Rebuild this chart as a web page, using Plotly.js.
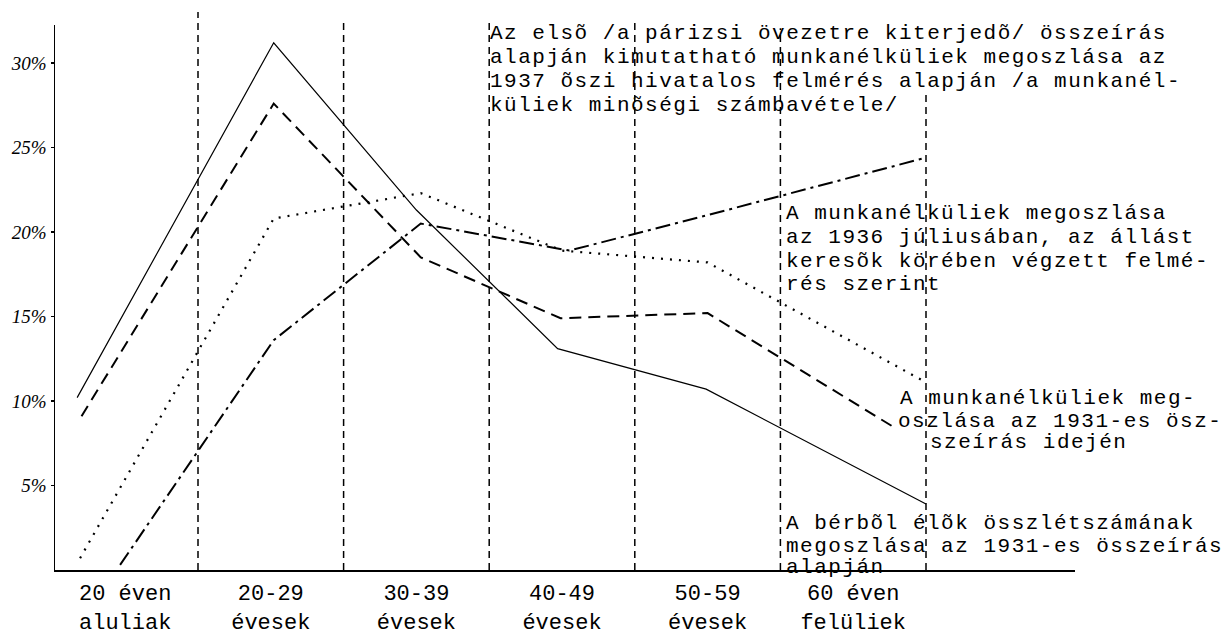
<!DOCTYPE html>
<html><head><meta charset="utf-8">
<script src="https://cdn.plot.ly/plotly-3.0.1.min.js"></script>
<style>
html,body{margin:0;padding:0;background:#fff}
#chart{width:1226px;height:637px}
text.annotation-text{letter-spacing:1.5px}
</style>
</head><body><div id="chart"></div>
<script>
// ---- data ----
const ageGroups = ["20 éven<br>aluliak", "20-29<br>évesek", "30-39<br>évesek", "40-49<br>évesek", "50-59<br>évesek", "60 éven<br>felüliek"];
const ageIndex = [0, 1, 2, 3, 4, 5];
const yTickVals = [5, 10, 15, 20, 25, 30];
const yTickText = ["5%", "10%", "15%", "20%", "25%", "30%"];

// x in age-group units, y in percent
const bersX = [-0.33, 1.02, 2.0, 2.97, 3.99, 5.5];
const bersY = [10.2, 31.2, 21.3, 13.1, 10.7, 3.9];
const census1931X = [-0.30, 1.02, 2.03, 2.99, 4.0, 5.27];
const census1931Y = [9.1, 27.6, 18.5, 14.9, 15.2, 8.5];
const survey1936X = [-0.31, 1.02, 2.03, 3.0, 4.0, 5.5];
const survey1936Y = [0.7, 20.8, 22.3, 18.9, 18.2, 11.1];
const paris1937X = [-0.035, 1.02, 2.03, 3.05, 4.0, 5.5];
const paris1937Y = [0.3, 13.6, 20.5, 18.9, 21.0, 24.4];

// ---- texts ----
const textParis1937 = ["Az elsõ /a párizsi övezetre kiterjedõ/ összeírás",
  "alapján kimutatható munkanélküliek megoszlása az",
  "1937 õszi hivatalos felmérés alapján /a munkanél-",
  "küliek minõségi számbavétele/"];
const textSurvey1936 = ["A munkanélküliek megoszlása",
  "az 1936 júliusában, az állást",
  "keresõk körében végzett felmé-",
  "rés szerint"];
const textCensus1931 = ["A munkanélküliek meg-",
  "oszlása az 1931-es ösz-",
  "szeírás idején"];
const textBers = ["A bérbõl élõk összlétszámának",
  "megoszlása az 1931-es összeírás",
  "alapján"];

// ---- layout helpers ----
const FIG = {w: 1226, h: 637};
const M = {l: 55, r: 151, t: 25, b: 67};
const PW = FIG.w - M.l - M.r, PH = FIG.h - M.t - M.b;
const px2x = p => (p - M.l) / PW;
const px2y = p => (FIG.h - M.b - p) / PH;
const MONO = "Liberation Mono, Courier New, monospace";

function block(lines, lefts, centers) {
  return lines.map((t, i) => ({
    text: t, xref: "paper", yref: "paper",
    x: px2x(lefts[i]), y: px2y(centers[i]),
    xanchor: "left", yanchor: "middle", showarrow: false,
    font: {family: MONO, size: 21, color: "#000"}
  }));
}

const annotations = [].concat(
  block(textParis1937, [488, 488, 488, 488], [34, 57, 82, 106]),
  block(textSurvey1936, [784, 784, 784, 784], [213, 237, 261, 284]),
  block(textCensus1931, [898, 896, 928], [398, 421, 442]),
  block(textBers, [784, 784, 784], [523, 546, 567])
);

const dividerTops = [1.024, 1.013, 1.006, 1.006, 0.994, 0.875];
const shapes = ageIndex.map((k, i) => ({
  type: "line", xref: "x", yref: "paper",
  x0: k + 0.5, x1: k + 0.5, y0: 0, y1: dividerTops[i],
  line: {color: "#000", width: 1.5, dash: "7px,5px"}
}));

const mk = (x, y, name, dash, width) => ({
  x: x, y: y, name: name, type: "scatter", mode: "lines",
  line: {color: "#000", width: width, dash: dash},
  hoverinfo: "skip", showlegend: false
});

const traces = [
  mk(bersX, bersY, textBers.join(" "), "solid", 1.2),
  mk(census1931X, census1931Y, textCensus1931.join(" "), "12px,7px", 2),
  mk(survey1936X, survey1936Y, textSurvey1936.join(" "), "2px,7px", 2.2),
  mk(paris1937X, paris1937Y, textParis1937.join(" "), "15px,5px,3px,5px", 2)
];

const layout = {
  width: FIG.w, height: FIG.h,
  margin: {l: M.l, r: M.r, t: M.t, b: M.b, pad: 0},
  paper_bgcolor: "#fff", plot_bgcolor: "#fff",
  showlegend: false,
  xaxis: {
    range: [(M.l - 125.2) / 145.6, (M.l + PW - 125.2) / 145.6],
    tickvals: ageIndex, ticktext: ageGroups,
    showgrid: false, zeroline: false,
    showline: true, linecolor: "#000", linewidth: 2,
    ticks: "", ticklabelstandoff: 2,
    tickfont: {family: MONO, size: 22, color: "#000"}
  },
  yaxis: {
    range: [0, 32.25],
    tickvals: yTickVals, ticktext: yTickText,
    showgrid: false, zeroline: false,
    showline: true, linecolor: "#000", linewidth: 1.5,
    ticks: "outside", ticklen: 3, tickwidth: 1.5, tickcolor: "#000",
    tickfont: {family: "Liberation Serif, serif", size: 19, style: "italic", color: "#000"}
  },
  shapes: shapes,
  annotations: annotations
};

Plotly.newPlot("chart", traces, layout, {displayModeBar: false, staticPlot: true});
</script>
</body></html>
